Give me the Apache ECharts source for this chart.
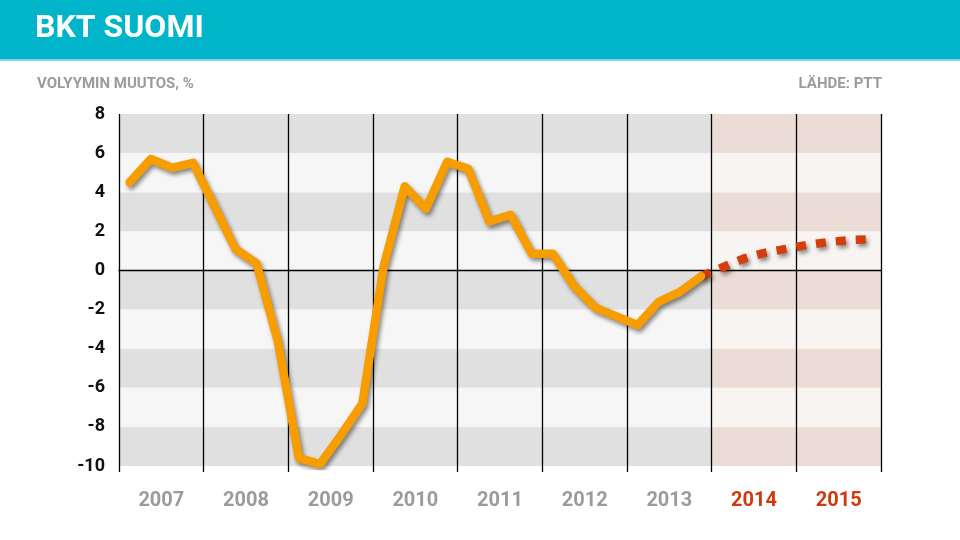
<!DOCTYPE html>
<html>
<head>
<meta charset="utf-8">
<script src="https://cdn.jsdelivr.net/npm/echarts@6/dist/echarts.min.js"></script>
<style>
  html, body { margin: 0; padding: 0; background: #fff; }
  #main { width: 960px; height: 540px; }
</style>
</head>
<body>
<div id="main"></div>
<script>
// years shown on the axis
const years = ['2007', '2008', '2009', '2010', '2011', '2012', '2013', '2014', '2015'];
const forecastYears = ['2014', '2015'];
const quarters = ['Q1', 'Q2', 'Q3', 'Q4'];

// GDP volume change, % (2007Q1 .. 2013Q4)
const actual = [
  4.5, 5.7, 5.25, 5.5,
  3.3, 1.1, 0.35, -3.6,
  -9.6, -9.9, -8.4, -6.8,
  0.2, 4.3, 3.15, 5.55,
  5.2, 2.5, 2.85, 0.85,
  0.85, -0.8, -1.9, -2.35,
  -2.8, -1.6, -1.1, -0.3
];
// forecast 2014Q1 .. 2015Q4 (drawn from the last actual quarter)
const forecast = [0.15, 0.6, 0.9, 1.1, 1.3, 1.45, 1.55, 1.6];

const yTicks = [-10, -8, -6, -4, -2, 0, 2, 4, 6, 8];

const quarterCats = [];
years.forEach(y => quarters.forEach(q => quarterCats.push(y + q)));

const actualData = actual.slice();
const forecastData = quarterCats.map(() => null);
forecastData[actual.length - 1] = actual[actual.length - 1];
forecast.forEach((v, i) => { forecastData[actual.length + i] = v; });

// background bands: gray for history, pink for forecast years
const nHist = years.length - forecastYears.length;
const bands = [];
for (let i = 0; i < yTicks.length - 1; i++) {
  const dark = i % 2 === 0;
  bands.push([
    { xAxis: 0, yAxis: yTicks[i], itemStyle: { color: dark ? '#e0e0e0' : '#f6f6f6' } },
    { xAxis: nHist, yAxis: yTicks[i + 1] }
  ]);
  bands.push([
    { xAxis: nHist, yAxis: yTicks[i], itemStyle: { color: dark ? '#ecdcd6' : '#f8f4f2' } },
    { xAxis: years.length, yAxis: yTicks[i + 1] }
  ]);
}

const chart = echarts.init(document.getElementById('main'));
chart.setOption({
  animation: false,
  backgroundColor: '#fff',
  graphic: [
    { type: 'rect', shape: { x: 0, y: 0, width: 960, height: 60 }, style: { fill: '#00b5c9' }, z: 0 },
    { type: 'rect', shape: { x: 0, y: 59, width: 960, height: 2 }, style: { fill: '#7fd6e0' }, z: 0 },
    { type: 'text', left: 35, top: 13, z: 1,
      style: { text: 'BKT SUOMI', fill: '#fff', font: 'bold 32px Roboto' } },
    { type: 'text', left: 37, top: 77, z: 1,
      style: { text: 'VOLYYMIN MUUTOS, %', fill: '#9b9b9b', font: 'bold 15px Roboto' } },
    { type: 'text', right: 78, top: 77, z: 1,
      style: { text: 'LÄHDE: PTT', fill: '#9b9b9b', font: 'bold 15px Roboto' } }
  ],
  grid: { left: 119, right: 79, top: 114, bottom: 74 },
  xAxis: [
    {
      type: 'category', data: quarterCats, boundaryGap: true,
      axisLine: { show: true, onZero: true, lineStyle: { color: '#000', width: 1.3 } },
      axisTick: { show: false }, axisLabel: { show: false }, splitLine: { show: false },
      z: 3
    },
    {
      type: 'category', data: years, boundaryGap: true, position: 'bottom',
      axisLine: { show: false, onZero: false },
      axisTick: { show: true, length: 6, lineStyle: { color: '#000', width: 1.3 } },
      axisLabel: {
        margin: 25, fontFamily: 'Roboto', fontWeight: 'bold', fontSize: 20,
        color: v => forecastYears.includes(v) ? '#d0380e' : '#9b9b9b'
      },
      splitLine: { show: true, lineStyle: { color: '#000', width: 1.3 } },
      z: 3
    },
    { type: 'value', min: 0, max: years.length, show: false }
  ],
  yAxis: {
    type: 'value', min: -10, max: 8, interval: 2,
    axisLine: { show: false }, axisTick: { show: false }, splitLine: { show: false },
    axisLabel: { margin: 14, fontFamily: 'Roboto', fontWeight: 'bold', fontSize: 18, color: '#111' }
  },
  series: [
    {
      name: 'bands', type: 'line', xAxisIndex: 2, data: [[0, 0]], symbol: 'none',
      lineStyle: { opacity: 0 }, silent: true, z: 1,
      markArea: { silent: true, data: bands }
    },
    {
      name: 'Toteutunut', type: 'line', xAxisIndex: 0, data: actualData,
      symbol: 'none', z: 5,
      lineStyle: {
        color: '#f79d00', width: 8.5, cap: 'round', join: 'round',
        shadowColor: 'rgba(0,0,0,0.45)', shadowBlur: 4, shadowOffsetX: 2, shadowOffsetY: 3
      }
    },
    {
      name: 'Ennuste', type: 'line', xAxisIndex: 0, data: forecastData,
      symbol: 'none', z: 4,
      lineStyle: {
        color: '#d63d0c', width: 8.5, type: [10, 10], cap: 'butt',
        shadowColor: 'rgba(0,0,0,0.45)', shadowBlur: 4, shadowOffsetX: 2, shadowOffsetY: 3
      }
    }
  ]
});
</script>
</body>
</html>
